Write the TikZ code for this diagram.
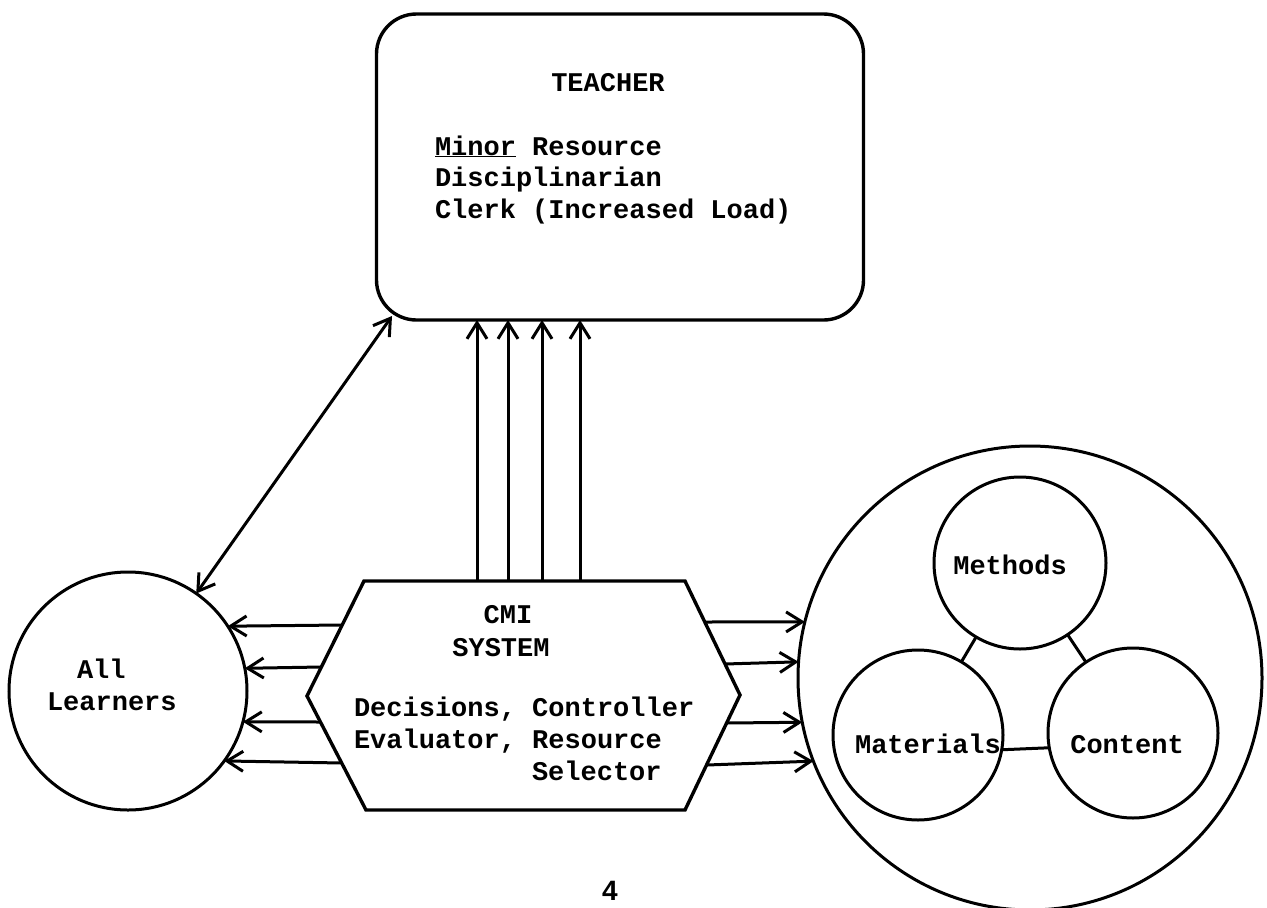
\documentclass[tikz,border=0pt]{standalone}
\usepackage{fontspec}
\setmainfont{Liberation Mono}
\setsansfont{Liberation Sans}
\usetikzlibrary{arrows.meta}
\begin{document}
\begin{tikzpicture}[x=1pt,y=-1pt,
  every node/.style={inner sep=0pt, outer sep=0pt},
  txt/.style={font=\fontsize{27}{32}\selectfont\bfseries},
  ttl/.style={font=\fontsize{27}{32}\selectfont\bfseries},
  frame/.style={draw, line width=3.4pt},
  ring/.style={draw, circle, line width=3pt},
  conn/.style={line width=3pt, -{Straight Barb[length=16pt,width=20pt]}},
  dconn/.style={line width=3pt, {Straight Barb[length=16pt,width=20pt]}-{Straight Barb[length=16pt,width=20pt]}},
  link/.style={line width=3pt}]
\useasboundingbox (0,0) rectangle (1267,908);

% Teacher box
\node[frame, rounded corners=40pt, minimum width=487pt, minimum height=306pt] (teacher) at (620,167) {};
\node[ttl, anchor=base] (tt) at (608,91) {TEACHER};
\node[txt, anchor=base west] (t1) at (435,155) {\underline{Minor} Resource};
\node[txt, anchor=base west] (t2) at (435,186) {Disciplinarian};
\node[txt, anchor=base west] (t3) at (435,218) {Clerk (Increased Load)};

% Learners circle
\node[ring, minimum size=238pt] (learners) at (128,691) {};
\node[txt, anchor=base west] (l1) at (77,678) {All};
\node[txt, anchor=base west] (l2) at (47,710) {Learners};

% Big circle with three inner circles
\node[ring, minimum size=464pt] (big) at (1030,678) {};
\node[ring, minimum size=172pt] (methods) at (1020,563) {};
\node[ring, minimum size=170pt] (materials) at (918,735) {};
\node[ring, minimum size=170pt] (content) at (1133,733) {};
\node[txt, anchor=base] (mt) at (1010,574) {Methods};
\node[txt, anchor=base] (mat) at (928,753) {Materials};
\node[txt, anchor=base] (ct) at (1127,753) {Content};
\draw[link] (methods) -- (materials);
\draw[link] (methods) -- (content);
\draw[link] (materials.-10) -- (content.190);

% CMI hexagon
\draw[line width=3.4pt] (364,581) coordinate (h1) -- (685,581) coordinate (h2)
  -- (740,695) coordinate (h3) -- (685,810) coordinate (h4)
  -- (366,810) coordinate (h5) -- (307,696) coordinate (h6) -- cycle;
\node[ttl, anchor=base] (c1) at (508,623) {CMI};
\node[ttl, anchor=base] (c2) at (501,656) {SYSTEM};
\node[txt, anchor=base west] (c3) at (354,716) {Decisions, Controller};
\node[txt, anchor=base west] (c4) at (354,748) {Evaluator, Resource};
\node[txt, anchor=base west] (c5) at (532,780) {Selector};

% vertical arrows to teacher
\coordinate (v1) at (477,581);
\coordinate (v2) at (508,581);
\coordinate (v3) at (542,581);
\coordinate (v4) at (580,581);
\foreach \v in {v1,v2,v3,v4} \draw[conn] (\v) -- (\v |- teacher.south);

% teacher <-> learners
\coordinate (tc) at (392,316);
\draw[dconn] (learners.55.7) -- (tc);

% arrows to learners
\coordinate (a1) at (342,625);
\coordinate (a2) at (321,667);
\coordinate (a3) at (320,722);
\coordinate (a4) at (342,763);
\draw[conn] (a1) -- (learners.33.4);
\draw[conn] (a2) -- (learners.11.5);
\draw[conn] (a3) -- (learners.-15.0);
\draw[conn] (a4) -- (learners.-36.9);

% arrows to resources
\coordinate (b1) at (705,622);
\coordinate (b2) at (725,664);
\coordinate (b3) at (727,723);
\coordinate (b4) at (707,765);
\draw[conn] (b1) -- (big.166.1);
\draw[conn] (b2) -- (big.176.6);
\draw[conn] (b3) -- (big.191.1);
\draw[conn] (b4) -- (big.201.9);

% page number
\node[font=\sffamily\bfseries\fontsize{28}{30}\selectfont, anchor=base] (pg) at (610,900) {4};
\end{tikzpicture}
\end{document}
